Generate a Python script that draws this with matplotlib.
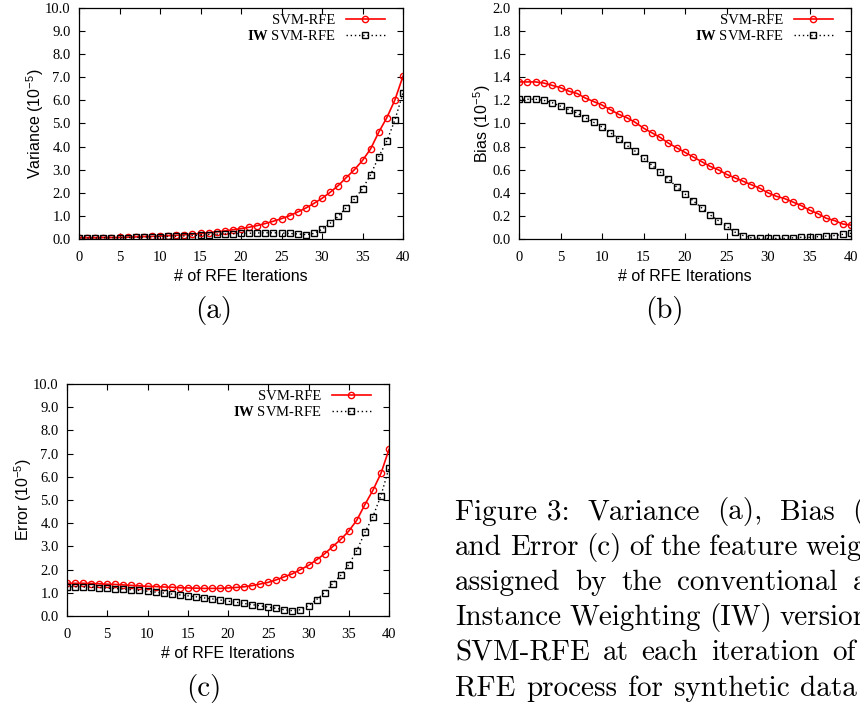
import matplotlib
matplotlib.use("Agg")
import matplotlib.pyplot as plt
import numpy as np

plt.rcParams['font.family'] = 'Liberation Serif'
plt.rcParams['mathtext.fontset'] = 'custom'
plt.rcParams['mathtext.rm'] = 'Liberation Serif'
plt.rcParams['mathtext.bf'] = 'Liberation Serif:bold'
plt.rcParams['mathtext.default'] = 'regular'

# RFE iteration index
iters = np.arange(41)

# variance (1e-5)
var_svm = [0.05, 0.05, 0.05, 0.06, 0.06, 0.07, 0.08, 0.09, 0.10, 0.11,
           0.13, 0.14, 0.16, 0.18, 0.21, 0.24, 0.27, 0.31, 0.35, 0.40,
           0.45, 0.51, 0.58, 0.67, 0.77, 0.88, 1.01, 1.17, 1.34, 1.54,
           1.76, 2.02, 2.31, 2.66, 3.00, 3.40, 3.90, 4.62, 5.25, 6.02,
           7.05]
var_iw = [0.04, 0.04, 0.04, 0.05, 0.05, 0.05, 0.06, 0.07, 0.08, 0.09,
          0.10, 0.11, 0.12, 0.13, 0.15, 0.17, 0.19, 0.21, 0.22, 0.23,
          0.24, 0.25, 0.26, 0.27, 0.27, 0.26, 0.24, 0.22, 0.19, 0.24,
          0.42, 0.68, 0.98, 1.36, 1.73, 2.18, 2.78, 3.56, 4.24, 5.15,
          6.32]

# bias (1e-5)
bias_svm = [1.36, 1.36, 1.36, 1.35, 1.33, 1.31, 1.28, 1.26, 1.22, 1.19,
            1.16, 1.12, 1.08, 1.05, 1.01, 0.96, 0.92, 0.88, 0.83, 0.79,
            0.75, 0.71, 0.67, 0.63, 0.60, 0.56, 0.53, 0.50, 0.47, 0.44,
            0.40, 0.37, 0.35, 0.32, 0.29, 0.25, 0.22, 0.18, 0.16, 0.13,
            0.12]
bias_iw = [1.21, 1.21, 1.21, 1.20, 1.18, 1.15, 1.12, 1.09, 1.05, 1.01,
           0.97, 0.92, 0.87, 0.81, 0.76, 0.70, 0.64, 0.58, 0.52, 0.45,
           0.39, 0.33, 0.27, 0.21, 0.16, 0.11, 0.06, 0.03, 0.01, 0.005,
           0.005, 0.005, 0.005, 0.01, 0.015, 0.015, 0.02, 0.025, 0.03, 0.04,
           0.05]

# error (1e-5)
err_svm = [1.41, 1.41, 1.41, 1.40, 1.39, 1.37, 1.36, 1.34, 1.32, 1.30,
           1.28, 1.27, 1.25, 1.24, 1.22, 1.21, 1.20, 1.19, 1.19, 1.19,
           1.21, 1.23, 1.26, 1.31, 1.38, 1.45, 1.56, 1.69, 1.82, 2.00,
           2.18, 2.42, 2.68, 2.99, 3.30, 3.66, 4.13, 4.80, 5.42, 6.15,
           7.18]
err_iw = [1.26, 1.26, 1.25, 1.24, 1.22, 1.20, 1.18, 1.16, 1.13, 1.10,
          1.07, 1.03, 0.99, 0.95, 0.91, 0.87, 0.83, 0.78, 0.74, 0.69,
          0.64, 0.59, 0.54, 0.49, 0.44, 0.38, 0.33, 0.27, 0.23, 0.27,
          0.45, 0.71, 1.01, 1.40, 1.75, 2.21, 2.82, 3.60, 4.28, 5.19,
          6.38]

caption_lines = [
    ["Figure 3:", "Variance", "(a),", "Bias", "(b)"],
    ["and", "Error", "(c)", "of", "the", "feature", "weights"],
    ["assigned", "by", "the", "conventional", "and"],
    ["Instance", "Weighting", "(IW)", "version", "of"],
    ["SVM-RFE", "at", "each", "iteration", "of", "the"],
    ["RFE", "process", "for", "synthetic", "data", "set."],
]

W, H = 860, 709
fig = plt.figure(figsize=(W / 100, H / 100), dpi=100)


def box(x0, y0, x1, y1):
    # pixel box -> figure fraction rect
    return [x0 / W, 1 - y1 / H, (x1 - x0) / W, (y1 - y0) / H]


def panel(rect, svm, iw, ylabel, ymax, ystep):
    ax = fig.add_axes(rect)
    ax.plot(iters, svm, color='red', lw=1.2, marker='o', ms=4.5,
            mfc='none', mew=1.0, label='SVM-RFE')
    ax.plot(iters, iw, color='black', lw=1.0, ls=(0, (1, 2)), marker='s',
            ms=3.8, mfc='none', mew=1.0, label=r'$\mathbf{IW}$ SVM-RFE')
    ax.set_xlim(0, 40)
    ax.set_ylim(0, ymax)
    ax.set_xticks(range(0, 41, 5))
    ax.set_yticks(np.arange(0, ymax + ystep / 2, ystep))
    ax.yaxis.set_major_formatter('{x:.1f}')
    ax.tick_params(direction='in', top=True, right=True, length=4,
                   width=0.8, labelsize=10.5, pad=6)
    ax.tick_params(axis='x', pad=9)
    for s in ax.spines.values():
        s.set_linewidth(0.9)
    ax.set_xlabel('# of RFE Iterations', family='Liberation Sans',
                  fontsize=11.5, labelpad=3)
    ax.set_ylabel(ylabel, family='Liberation Sans', fontsize=11.5,
                  labelpad=-0.5)
    ax.legend(loc='upper right', bbox_to_anchor=(1 - 18 / (rect[2] * W), 0.975),
              frameon=False, markerfirst=False, numpoints=1, fontsize=10.5,
              handlelength=2.7, handletextpad=0.7, labelspacing=0.15,
              borderpad=0, borderaxespad=0)
    return ax


panel(box(79, 8, 403, 239), var_svm, var_iw, 'Variance (10$^{-5}$)', 10, 1.0)
panel(box(519, 8, 851, 239), bias_svm, bias_iw, 'Bias (10$^{-5}$)', 2.0, 0.2)
panel(box(67, 384, 389, 616), err_svm, err_iw, 'Error (10$^{-5}$)', 10, 1.0)

cm = dict(family='cmr10', fontsize=21, va='baseline')
fig.text(214 / W, 1 - 318 / H, '(a)', ha='center', **cm)
fig.text(664 / W, 1 - 318 / H, '(b)', ha='center', **cm)
fig.text(204 / W, 1 - 696 / H, '(c)', ha='center', **cm)

# justified caption: spread words so the k-th word starts at the given x
x_left = 455
line_base = [519.5, 554.7, 589.9, 625.1, 660.3, 695.5]
anchor_idx = [4, 6, 4, 3, 4, 4]
anchor_x = [852, 805, 853, 780, 832, 800]
r = fig.canvas.get_renderer()
for words, yb, k, xa in zip(caption_lines, line_base, anchor_idx, anchor_x):
    texts = [fig.text(0, 1 - yb / H, w, **cm) for w in words]
    widths = [t.get_window_extent(r).width for t in texts]
    gap = (xa - x_left - sum(widths[:k])) / k
    x = x_left
    for t, w in zip(texts, widths):
        t.set_x(x / W)
        x += w + gap

fig.savefig('out.png', dpi=100)
